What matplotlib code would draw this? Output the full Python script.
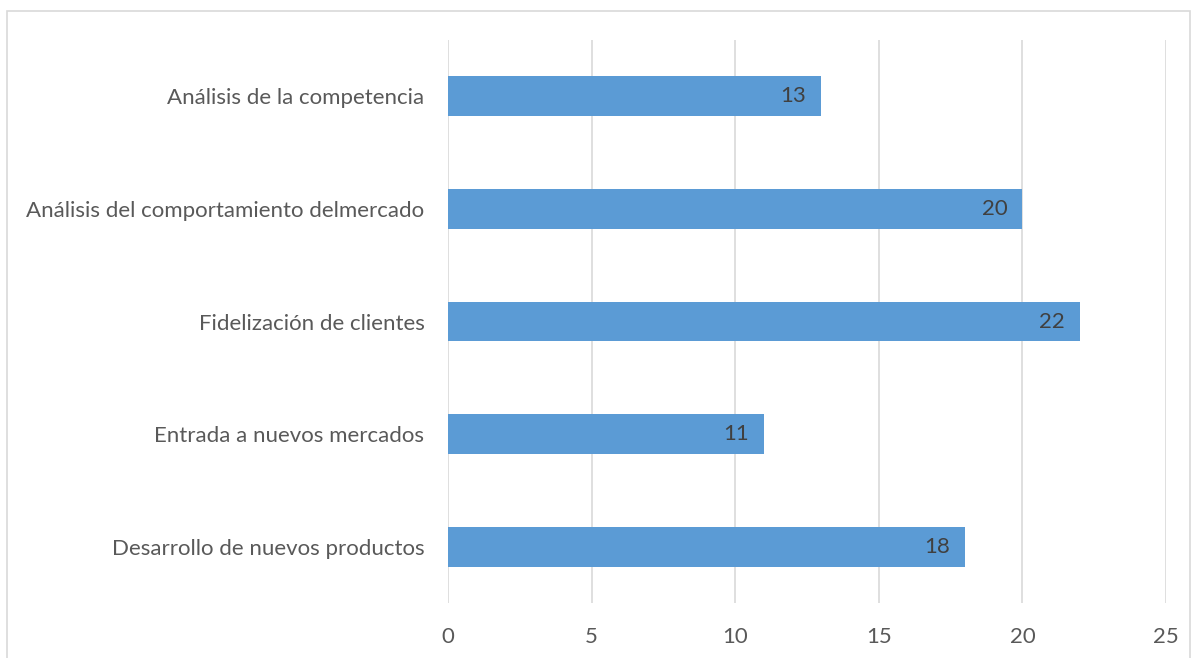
import matplotlib.pyplot as plt
from matplotlib.patches import Rectangle

categorias = ['Desarrollo de nuevos productos', 'Entrada a nuevos mercados',
              'Fidelización de clientes', 'Análisis del comportamiento delmercado',
              'Análisis de la competencia']
valores = [18, 11, 22, 20, 13]
ticks_x = [0, 5, 10, 15, 20, 25]

plt.rcParams['font.family'] = ['Lato', 'DejaVu Sans']

fig = plt.figure(figsize=(11.93, 6.58), dpi=100)
ax = fig.add_axes([448 / 1193, 1 - 603 / 658, 718 / 1193, 563 / 658])

pos = range(len(categorias))
ax.barh(pos, valores, height=0.355, color='#5B9BD5', zorder=3)
for y, v in zip(pos, valores):
    ax.annotate(str(v), (v, y), xytext=(-15, 0), textcoords='offset pixels',
                ha='right', va='center', fontsize=16, color='#404040', zorder=4)

ax.set_xlim(0, 25)
ax.set_ylim(-0.5, len(categorias) - 0.5)
ax.set_xticks(ticks_x)
ax.set_yticks(list(pos))
ax.set_yticklabels(categorias)
ax.tick_params(length=0, labelsize=16, labelcolor='#595959')
ax.tick_params(axis='x', pad=17)
ax.tick_params(axis='y', pad=17)
ax.grid(axis='x', color='#d9d9d9', linewidth=1.2, zorder=0)
for s in ax.spines.values():
    s.set_visible(False)

# chart frame
fig.patches.append(Rectangle((7 / 1193, -0.1), 1183 / 1193, 1.1 - 11 / 658,
                             transform=fig.transFigure, fill=False,
                             edgecolor='#d9d9d9', linewidth=1.2))

fig.savefig('out.png', dpi=100)
